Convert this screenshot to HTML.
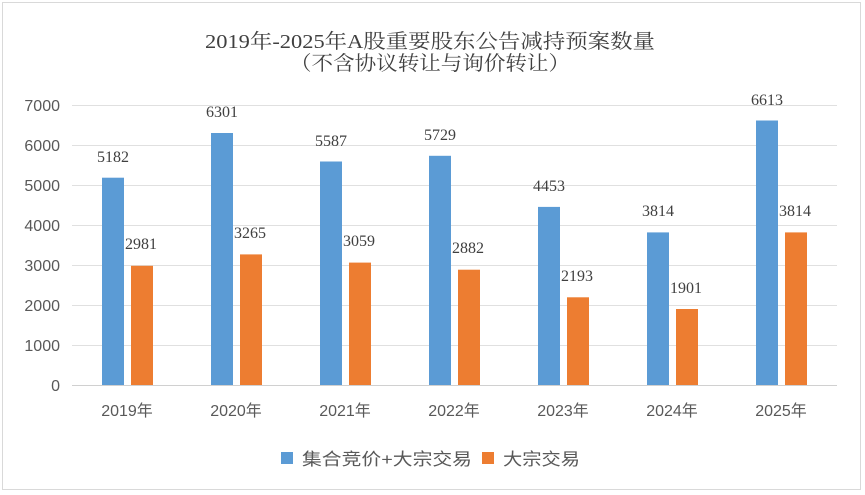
<!DOCTYPE html>
<html><head><meta charset="utf-8"><style>
html,body{margin:0;padding:0;background:#fff;}
svg{display:block;}
</style></head><body>
<svg width="865" height="495" viewBox="0 0 865 495" xmlns="http://www.w3.org/2000/svg">
<rect x="0" y="0" width="865" height="495" fill="#fff"/>
<rect x="2.5" y="2.5" width="858" height="487" fill="none" stroke="#d9d9d9" stroke-width="1"/>
<g font-family="'Liberation Serif','Noto Serif CJK SC',serif" fill="#404040" font-size="20" text-anchor="middle">
<text x="430" y="48" textLength="450" lengthAdjust="spacingAndGlyphs">2019年-2025年A股重要股东公告减持预案数量</text>
<text x="430" y="70" textLength="280" lengthAdjust="spacingAndGlyphs">（不含协议转让与询价转让）</text>
</g>
<g stroke="#e0e0e0" stroke-width="1">
<line x1="72" x2="837" y1="105.5" y2="105.5"/>
<line x1="72" x2="837" y1="145.5" y2="145.5"/>
<line x1="72" x2="837" y1="185.5" y2="185.5"/>
<line x1="72" x2="837" y1="225.5" y2="225.5"/>
<line x1="72" x2="837" y1="265.5" y2="265.5"/>
<line x1="72" x2="837" y1="305.5" y2="305.5"/>
<line x1="72" x2="837" y1="345.5" y2="345.5"/>
</g>
<line x1="72" x2="837" y1="385.5" y2="385.5" stroke="#d0d0d0"/>
<g font-family="'Liberation Sans',sans-serif" font-size="16" fill="#595959" text-anchor="end">
<text x="60" y="111">7000</text>
<text x="60" y="151">6000</text>
<text x="60" y="191">5000</text>
<text x="60" y="231">4000</text>
<text x="60" y="271">3000</text>
<text x="60" y="311">2000</text>
<text x="60" y="351">1000</text>
<text x="60" y="391">0</text>
</g>
<g id="bars">
<rect x="102" y="177.7" width="22" height="207.3" fill="#5b9bd5"/>
<rect x="131" y="265.8" width="22" height="119.2" fill="#ed7d31"/>
<rect x="211" y="133" width="22" height="252" fill="#5b9bd5"/>
<rect x="240" y="254.4" width="22" height="130.6" fill="#ed7d31"/>
<rect x="320" y="161.5" width="22" height="223.5" fill="#5b9bd5"/>
<rect x="349" y="262.6" width="22" height="122.4" fill="#ed7d31"/>
<rect x="429" y="155.8" width="22" height="229.2" fill="#5b9bd5"/>
<rect x="458" y="269.7" width="22" height="115.3" fill="#ed7d31"/>
<rect x="538" y="206.9" width="22" height="178.1" fill="#5b9bd5"/>
<rect x="567" y="297.3" width="22" height="87.7" fill="#ed7d31"/>
<rect x="647" y="232.4" width="22" height="152.6" fill="#5b9bd5"/>
<rect x="676" y="309" width="22" height="76" fill="#ed7d31"/>
<rect x="756" y="120.5" width="22" height="264.5" fill="#5b9bd5"/>
<rect x="785" y="232.4" width="22" height="152.6" fill="#ed7d31"/>
</g>
<g font-family="'Liberation Serif',serif" font-size="16" fill="#404040" text-anchor="middle">
<text x="113" y="162">5182</text>
<text x="141" y="249">2981</text>
<text x="222" y="117">6301</text>
<text x="250" y="238">3265</text>
<text x="331" y="146">5587</text>
<text x="359" y="246">3059</text>
<text x="440" y="140">5729</text>
<text x="468" y="253">2882</text>
<text x="549" y="191">4453</text>
<text x="577" y="281">2193</text>
<text x="658" y="216">3814</text>
<text x="686" y="293">1901</text>
<text x="767" y="105">6613</text>
<text x="795" y="216">3814</text>
</g>
<g font-family="'Liberation Sans','Noto Sans CJK SC',sans-serif" font-size="16" fill="#595959" text-anchor="middle">
<text x="127" y="416">2019年</text>
<text x="236" y="416">2020年</text>
<text x="345" y="416">2021年</text>
<text x="454" y="416">2022年</text>
<text x="563" y="416">2023年</text>
<text x="672" y="416">2024年</text>
<text x="781" y="416">2025年</text>
</g>
<rect x="281" y="452" width="12" height="12" fill="#5b9bd5"/>
<rect x="482" y="452" width="12" height="12" fill="#ed7d31"/>
<g font-family="'Liberation Sans','Noto Sans CJK SC',sans-serif" font-size="17" fill="#595959">
<text x="302" y="465" textLength="170" lengthAdjust="spacingAndGlyphs">集合竞价+大宗交易</text>
<text x="503" y="465" textLength="77" lengthAdjust="spacingAndGlyphs">大宗交易</text>
</g>
</svg>
</body></html>
